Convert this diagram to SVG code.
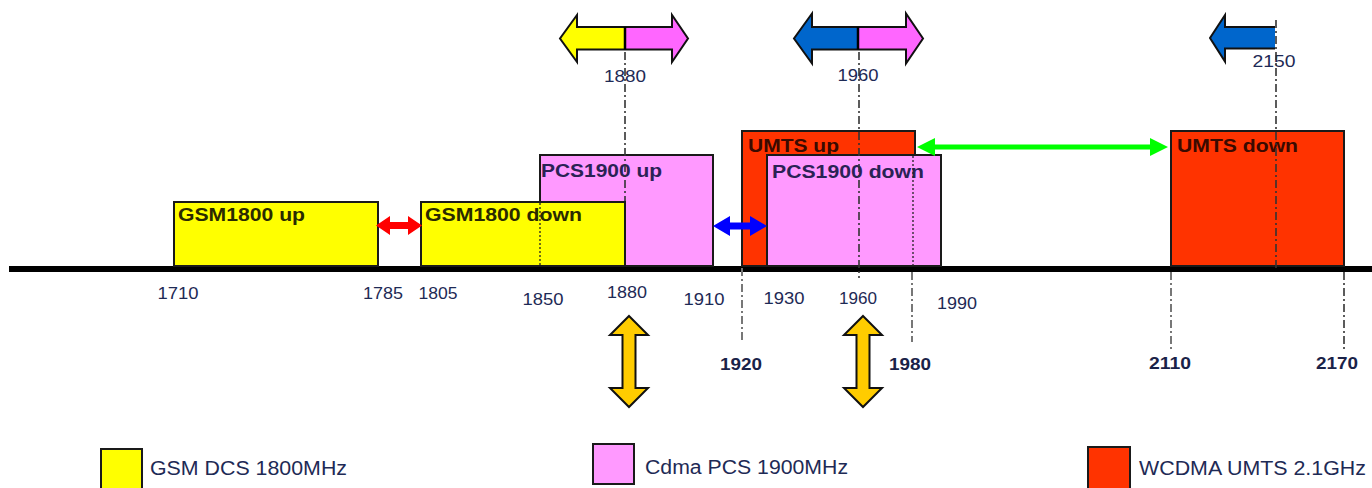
<svg xmlns="http://www.w3.org/2000/svg" width="1372" height="488" viewBox="0 0 1372 488">
<style>
.bg{fill:#fff}
.box{stroke:#1a1a1a;stroke-width:2}
.y{fill:#ffff00}
.p{fill:#ff99ff}
.r{fill:#ff3300}
.lbl{font-family:"Liberation Sans",Arial,sans-serif;font-weight:bold;font-size:18px}
.num{font-family:"Liberation Sans",Arial,sans-serif;font-size:17px;fill:#1e2a55;text-anchor:middle}
.bnum{font-family:"Liberation Sans",Arial,sans-serif;font-size:17px;font-weight:bold;fill:#1a2248;text-anchor:middle}
.leg{font-family:"Liberation Sans",Arial,sans-serif;font-size:20px;fill:#1e2a55}
.dd{fill:none;stroke:#333;stroke-width:1.6;stroke-dasharray:8 3 2 3}
.dg{fill:none;stroke:#777;stroke-width:2;stroke-dasharray:8 3 2 3}
.dot{fill:none;stroke:#222;stroke-width:1.3;stroke-dasharray:2 2}
.ol{fill:none;stroke:#111;stroke-width:2;stroke-linejoin:miter}
</style>
<rect class="bg" x="0" y="0" width="1372" height="488"/>

<g id="axis">
<rect x="9" y="266" width="1363" height="6" fill="#000"/>
</g>

<g id="gsm-up">
<rect class="box y" x="174" y="202" width="204" height="64"/>
<text class="lbl" x="178" y="221" fill="#2a2a00" textLength="127" lengthAdjust="spacingAndGlyphs">GSM1800 up</text>
</g>

<g id="pcs-up">
<rect class="box p" x="540" y="155" width="173" height="111"/>
<text class="lbl" x="541" y="177" fill="#2a2255" textLength="121" lengthAdjust="spacingAndGlyphs">PCS1900 up</text>
</g>

<g id="gsm-down">
<rect class="box y" x="421" y="202" width="204" height="64"/>
<text class="lbl" x="425" y="221" fill="#2a2a00" textLength="157" lengthAdjust="spacingAndGlyphs">GSM1800 down</text>
<line class="dot" x1="540" y1="203" x2="540" y2="266"/>
</g>

<g id="umts-up">
<rect class="box r" x="742" y="131" width="173" height="135"/>
<text class="lbl" x="748" y="152" fill="#3a0a00" textLength="91" lengthAdjust="spacingAndGlyphs">UMTS up</text>
</g>

<g id="pcs-down">
<rect class="box p" x="767" y="155" width="174" height="111"/>
<text class="lbl" x="772" y="178" fill="#2a2255" textLength="152" lengthAdjust="spacingAndGlyphs">PCS1900 down</text>
<line class="dot" x1="913" y1="156" x2="913" y2="266"/>
</g>

<g id="umts-down">
<rect class="box r" x="1171" y="131" width="173" height="135"/>
<text class="lbl" x="1177" y="152" fill="#3a0a00" textLength="121" lengthAdjust="spacingAndGlyphs">UMTS down</text>
</g>

<g id="top-arrow-1880">
<polygon fill="#ffff00" points="625,27 577,27 577,15 560,38.5 577,62 577,49.5 625,49.5"/>
<polygon fill="#ff66ff" points="625,27 672,27 672,15 688,38.5 672,62 672,49.5 625,49.5"/>
<polygon class="ol" points="577,27 577,15 560,38.5 577,62 577,49.5 672,49.5 672,62 688,38.5 672,15 672,27"/>
<line x1="625" y1="27" x2="625" y2="49.5" stroke="#000" stroke-width="2.5"/>
<text class="num" x="625" y="82" textLength="42" lengthAdjust="spacingAndGlyphs">1880</text>
</g>

<g id="top-arrow-1960">
<polygon fill="#0066cc" points="858,27 812,27 812,13.5 794,38.5 812,63.5 812,49.5 858,49.5"/>
<polygon fill="#ff66ff" points="858,27 906,27 906,13.5 923,38.5 906,63.5 906,49.5 858,49.5"/>
<polygon class="ol" points="812,27 812,13.5 794,38.5 812,63.5 812,49.5 906,49.5 906,63.5 923,38.5 906,13.5 906,27"/>
<line x1="858" y1="27" x2="858" y2="49.5" stroke="#000" stroke-width="2.5"/>
<text class="num" x="858" y="81" textLength="41" lengthAdjust="spacingAndGlyphs">1960</text>
</g>

<g id="top-arrow-2150">
<polygon fill="#0066cc" points="1275,27 1225,27 1225,15 1210,38 1225,61.5 1225,48.5 1275,48.5"/>
<polyline class="ol" points="1275,27 1225,27 1225,15 1210,38 1225,61.5 1225,48.5 1275,48.5"/>
<text class="num" x="1274" y="67" textLength="43" lengthAdjust="spacingAndGlyphs">2150</text>
</g>

<g id="gold-arrow-1">
<polygon fill="#ffcc00" stroke="#111" stroke-width="2" points="629,316 648,335 635.5,335 635.5,388 648,388 629,407 610,388 622.5,388 622.5,335 610,335"/>
</g>
<g id="gold-arrow-2">
<polygon fill="#ffcc00" stroke="#111" stroke-width="2" points="863,316 882,335 869.5,335 869.5,388 882,388 863,407 844,388 856.5,388 856.5,335 844,335"/>
</g>

<g id="guides">
<line class="dd" x1="625" y1="52" x2="625" y2="201"/>
<line class="dd" x1="859" y1="52" x2="859" y2="278"/>
<line class="dd" x1="1276" y1="20" x2="1276" y2="271"/>
<line class="dg" x1="742" y1="268" x2="742" y2="340"/>
<line class="dg" x1="912" y1="272" x2="912" y2="342"/>
<line class="dg" x1="1171" y1="272" x2="1171" y2="352"/>
<line class="dd" x1="1344" y1="272" x2="1344" y2="352"/>
</g>

<g id="connectors">
<polygon fill="#ff0000" points="376,225.5 390,216 390,222 408,222 408,216 422,225.5 408,235 408,229 390,229 390,235"/>
<polygon fill="#0000ff" points="713,226 730,216 730,222.5 750,222.5 750,216 767,226 750,236 750,229.5 730,229.5 730,236"/>
<polygon fill="#00ff00" points="917,147 935,138 935,144.5 1150,144.5 1150,138 1168,147 1150,156 1150,149.5 935,149.5 935,156"/>
</g>

<g id="axis-labels">
<text class="num" x="178" y="299" textLength="41" lengthAdjust="spacingAndGlyphs">1710</text>
<text class="num" x="383" y="299" textLength="40" lengthAdjust="spacingAndGlyphs">1785</text>
<text class="num" x="438" y="299" textLength="39" lengthAdjust="spacingAndGlyphs">1805</text>
<text class="num" x="543" y="305" textLength="41" lengthAdjust="spacingAndGlyphs">1850</text>
<text class="num" x="627" y="298" textLength="40" lengthAdjust="spacingAndGlyphs">1880</text>
<text class="num" x="704" y="305" textLength="41" lengthAdjust="spacingAndGlyphs">1910</text>
<text class="num" x="784" y="304" textLength="41" lengthAdjust="spacingAndGlyphs">1930</text>
<text class="num" x="858" y="304" textLength="38" lengthAdjust="spacingAndGlyphs">1960</text>
<text class="num" x="957" y="309" textLength="40" lengthAdjust="spacingAndGlyphs">1990</text>
<text class="bnum" x="741" y="370" textLength="42" lengthAdjust="spacingAndGlyphs">1920</text>
<text class="bnum" x="910" y="370" textLength="42" lengthAdjust="spacingAndGlyphs">1980</text>
<text class="bnum" x="1170" y="369" textLength="42" lengthAdjust="spacingAndGlyphs">2110</text>
<text class="bnum" x="1337" y="369" textLength="42" lengthAdjust="spacingAndGlyphs">2170</text>
</g>

<g id="legend-gsm">
<rect class="box y" x="101" y="449" width="41" height="44"/>
<text class="leg" x="150" y="475" textLength="197" lengthAdjust="spacingAndGlyphs">GSM DCS 1800MHz</text>
</g>
<g id="legend-cdma">
<rect class="box p" x="593" y="444" width="41" height="40"/>
<text class="leg" x="645" y="474" textLength="203" lengthAdjust="spacingAndGlyphs">Cdma PCS 1900MHz</text>
</g>
<g id="legend-wcdma">
<rect class="box r" x="1088" y="447" width="42" height="46"/>
<text class="leg" x="1139" y="475" textLength="227" lengthAdjust="spacingAndGlyphs">WCDMA UMTS 2.1GHz</text>
</g>
</svg>
